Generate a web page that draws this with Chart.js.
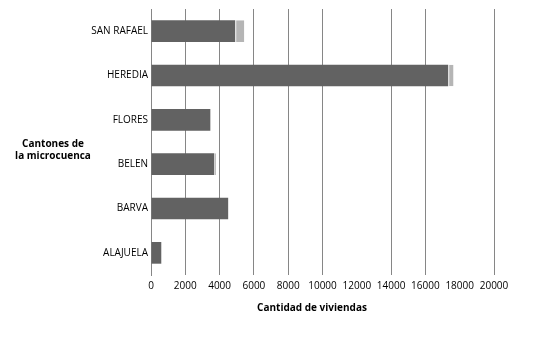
<!DOCTYPE html>
<html>
<head>
<meta charset="utf-8">
<script src="https://cdn.jsdelivr.net/npm/chart.js@4"></script>
<style>
  html, body { margin: 0; padding: 0; background: #fff; }
  #wrap { width: 537px; height: 337px; }
</style>
</head>
<body>
<div id="wrap"><canvas id="myChart" width="537" height="337"></canvas></div>
<script>
const cantones = ['SAN RAFAEL', 'HEREDIA', 'FLORES', 'BELEN', 'BARVA', 'ALAJUELA'];
const serie1 = [4910, 17330, 3460, 3690, 4500, 600];
const serie2 = [530, 310, 0, 100, 0, 0];
const xTicks = [0, 2000, 4000, 6000, 8000, 10000, 12000, 14000, 16000, 18000, 20000];
const hiddenGrid = [12000, 18000];

const font = 'Open Sans';

// titles drawn flat, the way the spreadsheet had them
const axisTitles = {
    id: 'axisTitles',
    afterDraw(chart) {
        const c = chart.ctx;
        c.save();
        c.fillStyle = '#000';
        c.font = 'bold 10px "' + font + '"';
        c.textAlign = 'center';
        c.textBaseline = 'middle';
        c.fillText('Cantones de', 53, 144);
        c.fillText('la microcuenca', 53, 156);
        c.fillText('Cantidad de viviendas', 312, 308);
        c.restore();
    }
};

const data = {
    labels: cantones,
    datasets: [{
        label: 'Serie 1',
        data: serie1,
        backgroundColor: '#626262',
        borderWidth: 0
    }, {
        label: 'Serie 2',
        data: serie2,
        backgroundColor: '#b5b5b5',
        borderColor: '#ffffff',
        borderWidth: {left: 1, right: 0, top: 0, bottom: 0},
        borderSkipped: false
    }]
};

const config = {
    type: 'bar',
    data: data,
    plugins: [axisTitles],
    options: {
        indexAxis: 'y',
        responsive: false,
        animation: false,
        categoryPercentage: 1,
        barPercentage: 0.49,
        layout: {
            padding: {top: 7, right: 43, bottom: 0, left: 0}
        },
        plugins: {
            legend: {display: false},
            tooltip: {enabled: false}
        },
        scales: {
            x: {
                stacked: true,
                min: 0,
                max: 20000,
                afterBuildTicks: (scale) => {
                    scale.ticks = xTicks.map(v => ({value: v}));
                },
                afterFit: (scale) => { scale.height = 62; },
                border: {display: false},
                grid: {
                    drawTicks: false,
                    lineWidth: 1,
                    color: (ctx) => hiddenGrid.includes(ctx.tick && ctx.tick.value) ? 'rgba(0,0,0,0)' : '#868686'
                },
                ticks: {
                    color: '#000',
                    padding: 5,
                    maxRotation: 0,
                    autoSkip: false,
                    callback: (v) => String(v),
                    font: {family: font, size: 10}
                }
            },
            y: {
                stacked: true,
                afterFit: (scale) => { scale.width = 151; },
                border: {display: true, color: '#868686', width: 1},
                grid: {display: false, drawTicks: false},
                ticks: {
                    color: '#000',
                    padding: 3,
                    font: {family: font, size: 10}
                }
            }
        }
    }
};

const myChart = new Chart(
    document.getElementById('myChart'),
    config
);
</script>
</body>
</html>
